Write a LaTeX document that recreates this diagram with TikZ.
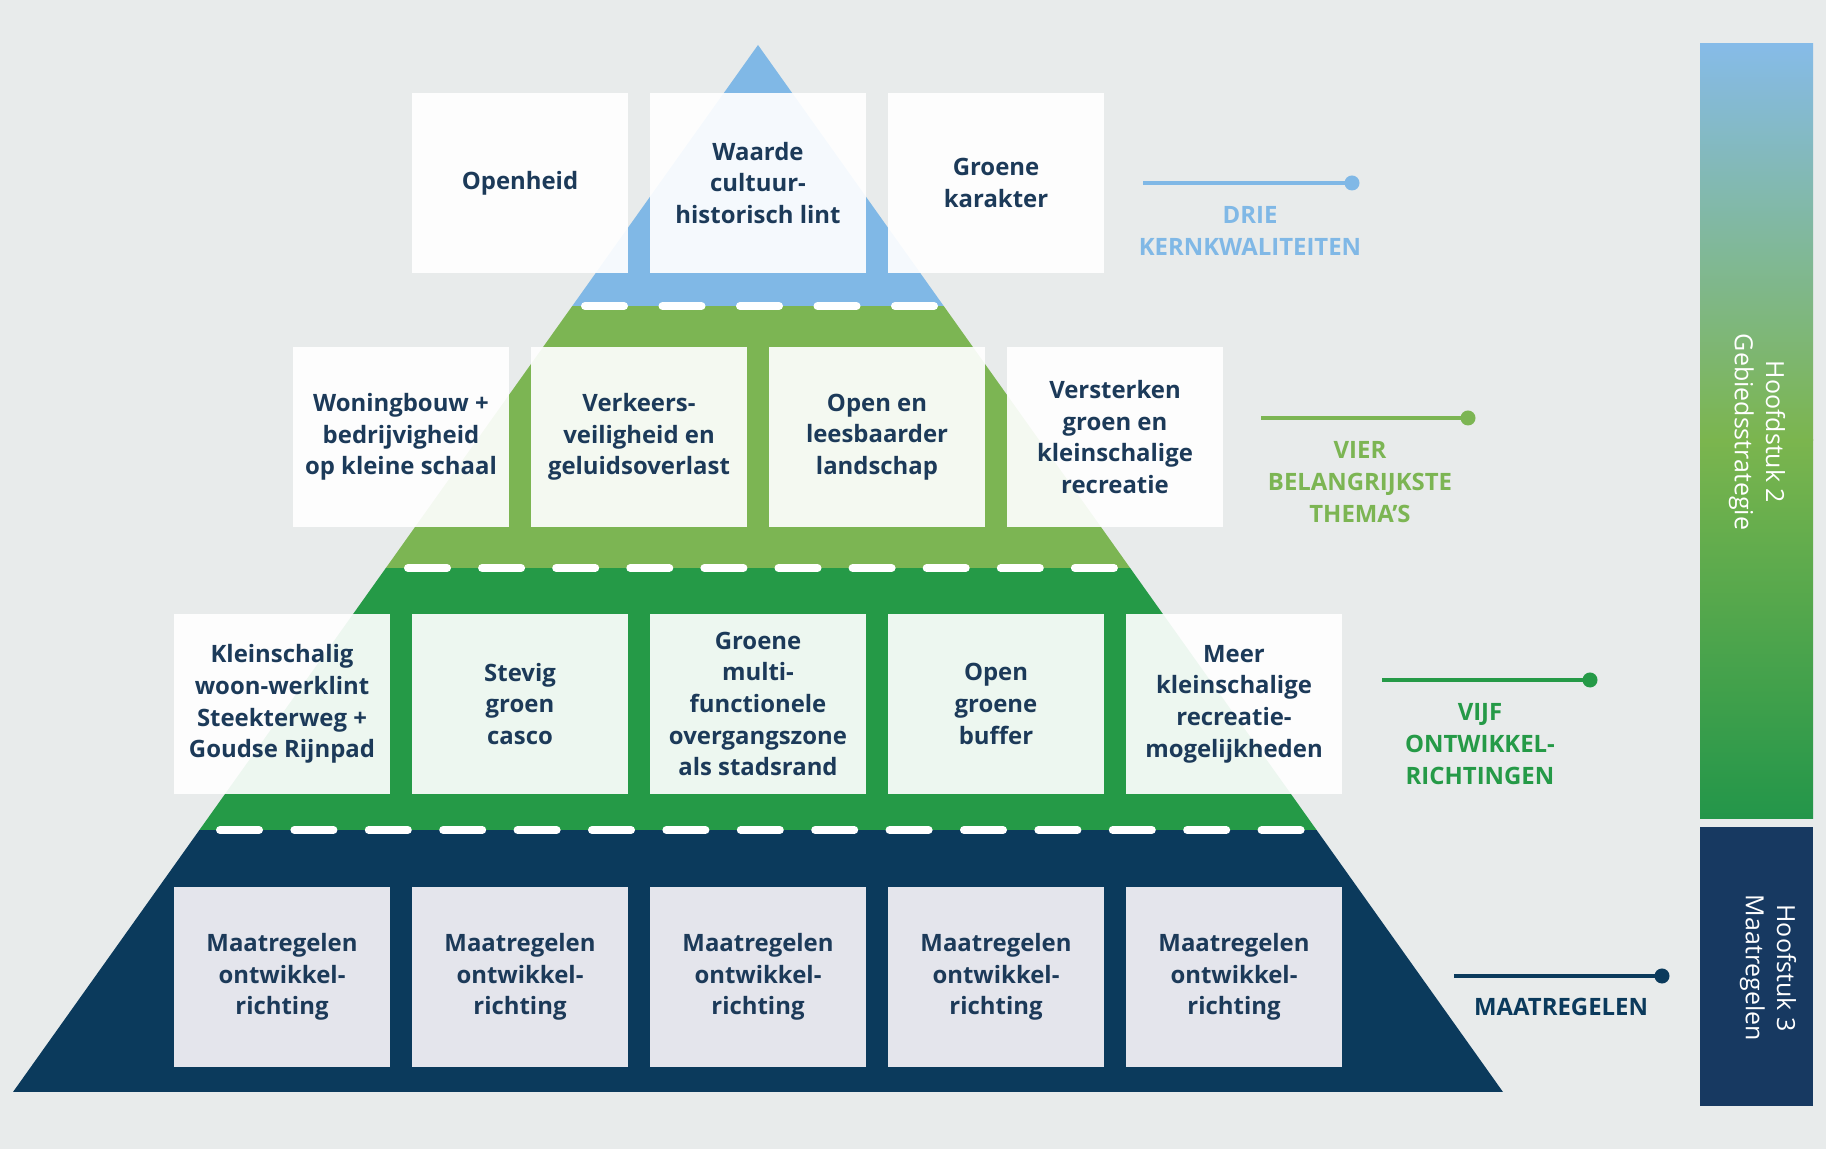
\documentclass[tikz,border=0pt]{standalone}
\usepackage{fontspec}
\setmainfont{Open Sans}
\usepackage{xcolor}
\usepackage{tikz}
\usetikzlibrary{positioning}

\definecolor{bgGray}{HTML}{E8EBEB}
\definecolor{topBlue}{HTML}{80B8E6}
\definecolor{lightGreen}{HTML}{7CB553}
\definecolor{midGreen}{HTML}{259A47}
\definecolor{navy}{HTML}{0B3A5C}
\definecolor{textNavy}{HTML}{1C3A59}
\definecolor{barNavy}{HTML}{173961}
\definecolor{barBlue}{HTML}{86BBE8}
\definecolor{barLime}{HTML}{7BB54E}
\definecolor{barGreen}{HTML}{23964A}
\definecolor{lowBox}{HTML}{E4E5EC}

\newcommand{\boxfont}{\fontsize{6.8}{9}\selectfont\bfseries}
\newcommand{\barfont}{\fontsize{7.1}{8.9}\selectfont}

\tikzset{
  tile/.style={fill=white, fill opacity=0.92, text opacity=1, text=textNavy,
    minimum width=2.16cm, minimum height=1.79cm, inner sep=0pt,
    align=center, font=\boxfont},
  lowtile/.style={tile, fill=lowBox, fill opacity=1},
  dashline/.style={white, line width=0.08cm, line cap=round},
  leader/.style={line width=0.04cm},
  enddot/.style={circle, inner sep=0pt, minimum size=0.15cm},
  levellabel/.style={align=center, font=\boxfont, inner sep=0pt},
  bartext/.style={text=white, rotate=-90, align=center, font=\barfont, inner sep=0pt},
}

\begin{document}
\begin{tikzpicture}[x=0.01cm, y=-0.01cm]
        \useasboundingbox (0,0) rectangle (1826,1149);
        \fill[bgGray] (0,0) rectangle (1826,1149);
        % pyramid layers
        \begin{scope}
            \clip (758,45) -- (13,1092) -- (1503,1092) -- cycle;
            \fill[topBlue] (0,0) rectangle (1826,306);
            \fill[lightGreen] (0,306) rectangle (1826,568);
            \fill[midGreen] (0,568) rectangle (1826,830);
            \fill[navy] (0,830) rectangle (1826,1092);
        \end{scope}
        \foreach \y/\xa/\n/\p in {306/581/5/77.5, 568/404/10/74.1, 830/216/15/74.4}{
            \foreach \i in {1,...,\n}{\draw[dashline] ({\xa+4+(\i-1)*\p},\y) -- ++(39,0);}
        }
        % row 1
        \node[tile] (openheid) at (520,183) {Openheid};
        \node[tile] (waarde) at (758,183) {Waarde\\cultuur-\\historisch lint};
        \node[tile] (karakter) at (996,183) {Groene\\karakter};
        % row 2
        \node[tile] (woning) at (401,437) {Woningbouw +\\bedrijvigheid\\op kleine schaal};
        \node[tile] (verkeer) at (639,437) {Verkeers-\\veiligheid en\\geluidsoverlast};
        \node[tile] (landschap) at (877,437) {Open en\\leesbaarder\\landschap};
        \node[tile] (recreatie) at (1115,437) {Versterken\\groen en\\kleinschalige\\recreatie};
        % row 3
        \node[tile] (lint) at (282,704) {Kleinschalig\\woon-werklint\\Steekterweg +\\Goudse Rijnpad};
        \node[tile] (casco) at (520,704) {Stevig\\groen\\casco};
        \node[tile] (zone) at (758,704) {Groene\\multi-\\functionele\\overgangszone\\als stadsrand};
        \node[tile] (buffer) at (996,704) {Open\\groene\\buffer};
        \node[tile] (mogelijk) at (1234,704) {Meer\\kleinschalige\\recreatie-\\mogelijkheden};
        % row 4
        \foreach \x [count=\i] in {282,520,758,996,1234}{
            \node[lowtile] (maatregel\i) at (\x,977) {Maatregelen\\ontwikkel-\\richting};
        }
        % level labels
        \coordinate (drieA) at (1143,183);
        \coordinate (drieB) at (1352,183);
        \draw[leader, topBlue] (drieA) -- (drieB) node[enddot, fill=topBlue] (drieDot) {};
        \node[levellabel, text=topBlue] (drie) at (1250,231) {DRIE\\KERNKWALITEITEN};
        \coordinate (vierA) at (1261,418);
        \coordinate (vierB) at (1468,418);
        \draw[leader, lightGreen] (vierA) -- (vierB) node[enddot, fill=lightGreen] (vierDot) {};
        \node[levellabel, text=lightGreen] (vier) at (1360,482) {VIER\\BELANGRIJKSTE\\THEMA'S};
        \coordinate (vijfA) at (1382,680);
        \coordinate (vijfB) at (1590,680);
        \draw[leader, midGreen] (vijfA) -- (vijfB) node[enddot, fill=midGreen] (vijfDot) {};
        \node[levellabel, text=midGreen] (vijf) at (1480,744) {VIJF\\ONTWIKKEL-\\RICHTINGEN};
        \coordinate (maatA) at (1454,976);
        \coordinate (maatB) at (1662,976);
        \draw[leader, navy] (maatA) -- (maatB) node[enddot, fill=navy] (maatDot) {};
        \node[levellabel, text=navy] (maat) at (1561,1007) {MAATREGELEN};
        % chapter bar
        \shade[top color=barBlue, bottom color=barLime] (1700,44) rectangle (1813,441);
        \shade[top color=barLime, bottom color=barGreen] (1700,440) rectangle (1813,819);
        \fill[barNavy] (1700,827) rectangle (1813,1106);
        \node[bartext] (hfd2) at (1757,432) {Hoofdstuk 2\\Gebiedsstrategie};
        \node[bartext] (hfd3) at (1768,968) {Hoofstuk 3\\Maatregelen};
    \end{tikzpicture}
\end{document}
